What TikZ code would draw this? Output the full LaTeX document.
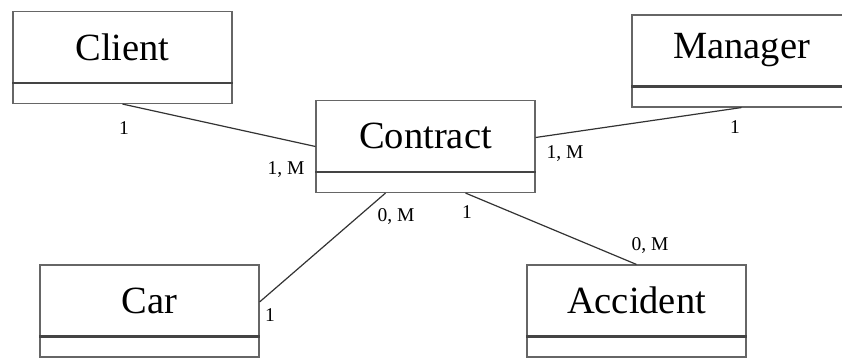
\documentclass[tikz,border=0pt]{standalone}
\usepackage{fontspec}
\setmainfont{Liberation Serif}
\definecolor{boxgray}{HTML}{666666}
\definecolor{bargray}{HTML}{444444}
\definecolor{linkgray}{HTML}{333333}
\begin{document}
\begin{tikzpicture}[x=1pt,y=-1pt,
  entity/.style={draw=boxgray, line width=1.1pt, minimum width=219pt,
                 minimum height=92pt, inner sep=0pt},
  title/.style={font=\fontsize{38.5}{40}\selectfont, inner sep=0pt},
  card/.style={font=\fontsize{19.5}{21}\selectfont, inner sep=0pt},
  link/.style={draw=linkgray, line width=1.2pt},
  bar/.style={draw=bargray, line width=2.2pt}]
\useasboundingbox (0,0) rectangle (842,358);
\fill[white] (0,0) rectangle (842,358);

% entity boxes: name / centre / title
\foreach \n/\x/\y/\t in {client/122.5/57.5/Client, contract/425.5/146.5/Contract,
    manager/741.5/61/Manager, car/149.5/311/Car, accident/636.5/311/Accident}{
  \node[entity] (\n) at (\x,\y) {};
  \node[title] (\n-title) at (\x,\y-10.5) {\t};
  \draw[bar] ([yshift=21pt]\n.south west) -- ([yshift=21pt]\n.south east);
}

% associations
\coordinate (contract-r) at ([yshift=9pt]contract.east);
\coordinate (contract-b1) at ([xshift=-40pt]contract.south);
\coordinate (contract-b2) at ([xshift=40pt]contract.south);
\coordinate (car-r) at ([yshift=9pt]car.east);
\draw[link] (client.south) -- (contract.west);
\draw[link] (manager.south) -- (contract-r);
\draw[link] (contract-b1) -- (car-r);
\draw[link] (contract-b2) -- (accident.north);

% multiplicities
\node[card] (m1) at (124,128) {1};
\node[card] (m2) at (286,170) {1, M};
\node[card] (m3) at (565,154) {1, M};
\node[card] (m4) at (735,127) {1};
\node[card] (m5) at (396,217) {0, M};
\node[card] (m6) at (467,212) {1};
\node[card] (m7) at (650,246) {0, M};
\node[card] (m8) at (270,315) {1};
\end{tikzpicture}
\end{document}
